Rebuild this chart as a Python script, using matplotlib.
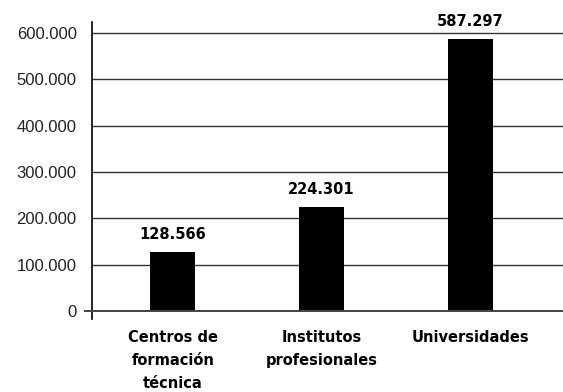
import matplotlib.pyplot as plt

# Matrícula por tipo de institución
categorias = ["Centros de\nformación\ntécnica", "Institutos\nprofesionales", "Universidades"]
matricula = [128566, 224301, 587297]
etiquetas = ["128.566", "224.301", "587.297"]
ticks_y = [0, 100000, 200000, 300000, 400000, 500000, 600000]
ticks_y_txt = ["0", "100.000", "200.000", "300.000", "400.000", "500.000", "600.000"]

plt.rcParams['font.family'] = ['Liberation Sans', 'DejaVu Sans']
negrita = ['DejaVu Sans']

fig = plt.figure(figsize=(5.63, 3.92), dpi=100)
ax = fig.add_axes([0.1634, 0.1862, 0.8366, 0.7577])

x = range(len(categorias))
ax.bar(x, matricula, width=0.304, color='black', zorder=3)

# etiquetas de valor sobre cada barra
for xi, v, t in zip(x, matricula, etiquetas):
    ax.annotate(t, (xi, v), xytext=(0, 7), textcoords='offset points',
                ha='center', va='bottom', fontsize=10.5, fontweight='bold',
                family=negrita)

# líneas horizontales
for yv in ticks_y[1:]:
    ax.axhline(yv, color='#333333', lw=1, zorder=1)
ax.axhline(0, xmin=-0.015, xmax=1, color='#444444', lw=1.4, zorder=4, clip_on=False)

ax.set_xlim(-0.544, 2.625)
ax.set_ylim(-17000, 624000)
ax.set_yticks(ticks_y)
ax.set_yticklabels(ticks_y_txt, fontsize=12, color='#222222')
ax.set_xticks(list(x))
ax.set_xticklabels(categorias, fontsize=10.5, fontweight='bold', linespacing=1.68,
                   va='top', family=negrita)
ax.tick_params(axis='y', length=0, pad=11)
ax.tick_params(axis='x', length=0, pad=8)

for s in ['top', 'right', 'bottom']:
    ax.spines[s].set_visible(False)
ax.spines['left'].set_color('black')
ax.spines['left'].set_linewidth(1.2)

fig.savefig('out.png', dpi=100)
